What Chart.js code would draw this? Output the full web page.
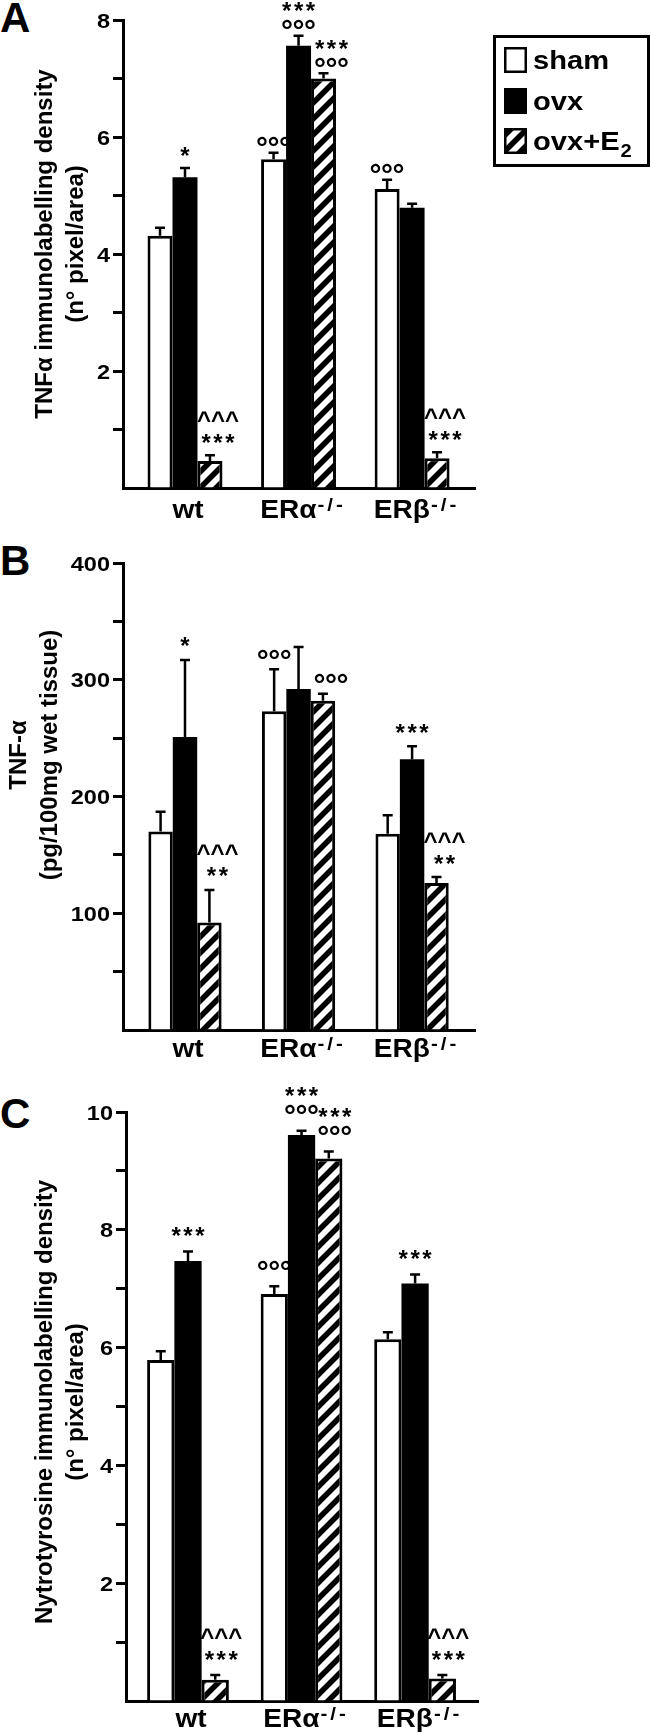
<!DOCTYPE html>
<html lang="en">
<head>
<meta charset="UTF-8">
<title>TNFα and nytrotyrosine</title>
<script src="https://cdn.jsdelivr.net/npm/chart.js"></script>
<style>
    html, body { margin: 0; padding: 0; background: #fff; }
    body { width: 650px; height: 1733px; position: relative; overflow: hidden; }
    canvas { position: absolute; left: 0; }
    .tag { position: absolute; left: 0; font: bold 42px "Liberation Sans", Arial, sans-serif; line-height: 42px; color: #000; }
</style>
</head>
<body>

<div class="tag" style="top:-3px">A</div>
<div class="tag" style="top:540px">B</div>
<div class="tag" style="top:1093px">C</div>

<canvas id="chartA" width="650" height="545" style="top:0px"></canvas>
<canvas id="chartB" width="650" height="540" style="top:545px"></canvas>
<canvas id="chartC" width="650" height="648" style="top:1085px"></canvas>

<script>
    var FONT = '"Liberation Sans", Arial, sans-serif';

    // groups on the x axis
    var groups = ['wt', 'ERα', 'ERβ'];
    var groupSup = ['', '-/-', '-/-'];

    // A - TNFα immunolabelling density (n° pixel/area)
    var shamA = [4.31, 5.62, 5.11];
    var ovxA = [5.31, 7.56, 4.79];
    var e2A = [0.46, 7.00, 0.51];
    var shamErrA = [0.14, 0.11, 0.16];
    var ovxErrA = [0.16, 0.17, 0.07];
    var e2ErrA = [0.10, 0.09, 0.10];
    var tickLabelsA = [2, 4, 6, 8];
    var shamMarksA = [[], ['°°°'], ['°°°']];
    var ovxMarksA = [['*'], ['°°°', '***'], []];
    var e2MarksA = [['***', '^^^'], ['°°°', '***'], ['***', '^^^']];

    // B - TNF-α (pg/100mg wet tissue)
    var shamB = [170, 273, 168];
    var ovxB = [251, 292, 232];
    var e2B = [92, 282, 126];
    var shamErrB = [17, 36, 16];
    var ovxErrB = [66, 36, 11];
    var e2ErrB = [28, 6, 5];
    var tickLabelsB = [100, 200, 300, 400];
    var shamMarksB = [[], ['°°°'], []];
    var ovxMarksB = [['*'], [], ['***']];
    var e2MarksB = [['**', '^^^'], ['°°°'], ['**', '^^^']];

    // C - Nytrotyrosine immunolabelling density (n° pixel/area)
    var shamC = [5.79, 6.91, 6.14];
    var ovxC = [7.47, 9.61, 7.09];
    var e2C = [0.36, 9.21, 0.38];
    var shamErrC = [0.15, 0.13, 0.12];
    var ovxErrC = [0.16, 0.07, 0.15];
    var e2ErrC = [0.08, 0.12, 0.06];
    var tickLabelsC = [2, 4, 6, 8, 10];
    var shamMarksC = [[], ['°°°'], []];
    var ovxMarksC = [['***'], ['°°°', '***'], ['***']];
    var e2MarksC = [['***', '^^^'], ['°°°', '***'], ['***', '^^^']];

    Chart.defaults.font.family = FONT;

    // diagonal hatch for ovx+E2 (45 deg, ~16px vertical period)
    function makeHatch() {
        var c = document.createElement('canvas');
        c.width = 16; c.height = 16;
        var g = c.getContext('2d');
        g.fillStyle = '#fff';
        g.fillRect(0, 0, 16, 16);
        g.strokeStyle = '#000';
        g.lineWidth = 5.6;
        g.beginPath();
        for (var n = -1; n <= 1; n++) {
            g.moveTo(-4, 16 * n + 16 + 4);
            g.lineTo(20, 16 * n + 16 - 20);
        }
        g.stroke();
        return c;
    }
    var hatchTile = makeHatch();

    function pts(arr) {
        return arr.map(function (v, i) { return { x: i + 1, y: v }; });
    }

    function stretchText(ctx, text, x, y, size, sx, align) {
        ctx.save();
        ctx.translate(x, y);
        ctx.scale(sx, 1);
        ctx.font = 'bold ' + size + 'px ' + FONT;
        ctx.textAlign = align;
        ctx.textBaseline = 'alphabetic';
        ctx.fillText(text, 0, 0);
        ctx.restore();
    }

    // glyph setup for significance marks: size, spacing, centre above baseline
    var markStyle = {
        '*': { size: 24, gap: 2.5, off: 13.5 },
        '°': { size: 30, gap: -0.5, off: 17.5 },
        '^': { size: 24, gap: 0, off: 12.5 }
    };

    function spacedText(ctx, text, cx, cy) {
        var st = markStyle[text[0]];
        ctx.font = 'bold ' + st.size + 'px ' + FONT;
        ctx.textAlign = 'left';
        ctx.textBaseline = 'alphabetic';
        var ws = [], w = 0, i;
        for (i = 0; i < text.length; i++) { ws.push(ctx.measureText(text[i]).width); w += ws[i]; }
        w += st.gap * (text.length - 1);
        var x = cx - w / 2;
        for (i = 0; i < text.length; i++) {
            ctx.fillText(text[i], x, cy + st.off);
            x += ws[i] + st.gap;
        }
    }

    function decor(cfg) {
        return {
            id: 'decor' + cfg.id,
            afterDraw: function (chart) {
                var ctx = chart.ctx, xs = chart.scales.x, ys = chart.scales.y;
                ctx.save();
                ctx.fillStyle = '#000';
                ctx.strokeStyle = '#000';

                // error bars + marks
                chart.data.datasets.forEach(function (ds, di) {
                    var meta = chart.getDatasetMeta(di);
                    meta.data.forEach(function (bar, i) {
                        var top = ys.getPixelForValue(ds.data[i].y + cfg.errors[di][i]);
                        ctx.lineWidth = 2.5;
                        ctx.beginPath();
                        ctx.moveTo(bar.x, bar.y);
                        ctx.lineTo(bar.x, top);
                        ctx.moveTo(bar.x - 5, top);
                        ctx.lineTo(bar.x + 5, top);
                        ctx.stroke();

                        var lines = cfg.marks[di][i];
                        var cy = top;
                        lines.forEach(function (t, k) {
                            if (k === 0) {
                                cy -= (t[0] === '°') ? cfg.gapDeg : cfg.gapStar;
                            } else {
                                cy -= (t[0] === '^') ? 22 : 18;
                            }
                            spacedText(ctx, t, bar.x + cfg.markDx[di], cy);
                        });
                    });
                });

                // y tick labels
                cfg.tickLabels.forEach(function (v) {
                    var py = ys.getPixelForValue(v);
                    stretchText(ctx, String(v), ys.right - 13, py + 7.5, 21, 1.12, 'right');
                });

                // y title
                ctx.font = 'bold 24px ' + FONT;
                ctx.textAlign = 'center';
                ctx.textBaseline = 'middle';
                cfg.title.forEach(function (line, k) {
                    ctx.save();
                    ctx.translate(cfg.titleX[k], cfg.titleY);
                    ctx.rotate(-Math.PI / 2);
                    ctx.fillText(line, 0, 0);
                    ctx.restore();
                });

                // category labels with superscript
                var SX = 1.08;
                groups.forEach(function (g, i) {
                    var cx = xs.getPixelForValue(i + 1) + 3;
                    var base = ys.bottom + cfg.labY;
                    ctx.font = 'bold 26px ' + FONT;
                    var w1 = ctx.measureText(g).width * SX;
                    var sup = groupSup[i];
                    ctx.font = 'bold 19px ' + FONT;
                    var sw = [], w2 = 0, j;
                    for (j = 0; j < sup.length; j++) { sw.push(ctx.measureText(sup[j]).width * SX); w2 += sw[j] + (j ? 3 : 1); }
                    var x = cx - (w1 + w2) / 2;
                    stretchText(ctx, g, x, base, 26, SX, 'left');
                    x += w1 + 1;
                    for (j = 0; j < sup.length; j++) {
                        stretchText(ctx, sup[j], x, base - 7, 19, SX, 'left');
                        x += sw[j] + 3;
                    }
                });

                // legend box (panel A only)
                if (cfg.legend) {
                    ctx.lineWidth = 3;
                    ctx.strokeRect(494.5, 36.5, 154, 129);
                    var fills = ['#fff', '#000', ctx.createPattern(hatchTile, 'repeat')];
                    var rows = [47, 88, 128];
                    rows.forEach(function (ry, k) {
                        ctx.fillStyle = fills[k];
                        ctx.fillRect(504, ry, 23, 26);
                        ctx.lineWidth = 2.5;
                        ctx.strokeRect(505.25, ry + 1.25, 20.5, 23.5);
                    });
                    ctx.fillStyle = '#000';
                    stretchText(ctx, 'sham', 533, 69, 26, 1.12, 'left');
                    stretchText(ctx, 'ovx', 533, 110, 26, 1.12, 'left');
                    stretchText(ctx, 'ovx+E', 533, 150, 26, 1.12, 'left');
                    ctx.font = 'bold 26px ' + FONT;
                    var wE = ctx.measureText('ovx+E').width * 1.12;
                    stretchText(ctx, '2', 533 + wE + 1, 157, 18, 1.12, 'left');
                }
                ctx.restore();
            }
        };
    }

    function makePanel(canvasId, cfg) {
        var el = document.getElementById(canvasId);
        var pat = el.getContext('2d').createPattern(hatchTile, 'repeat');
        return new Chart(el, {
            type: 'bar',
            data: {
                datasets: [
                    { label: 'sham', data: pts(cfg.sham), backgroundColor: '#fff', borderColor: '#000', borderWidth: 3 },
                    { label: 'ovx', data: pts(cfg.ovx), backgroundColor: '#000', borderColor: '#000', borderWidth: 0 },
                    { label: 'ovx+E2', data: pts(cfg.e2), backgroundColor: pat, borderColor: '#000', borderWidth: 3 }
                ]
            },
            options: {
                responsive: false,
                animation: false,
                devicePixelRatio: 1,
                layout: { padding: { top: cfg.top, right: 650 - cfg.right, left: 0, bottom: 0 } },
                datasets: { bar: { categoryPercentage: cfg.pct, barPercentage: 1 } },
                scales: {
                    x: {
                        type: 'linear', min: 0.454, max: 3.554, offset: false,
                        ticks: { display: false, stepSize: 1, includeBounds: false },
                        grid: { display: false, offset: false },
                        border: { display: true, width: 3, color: '#000' },
                        afterFit: function (s) { s.height = cfg.xh; }
                    },
                    y: {
                        min: 0, max: cfg.max,
                        ticks: { display: false, stepSize: cfg.step },
                        grid: {
                            display: true, drawOnChartArea: false, drawTicks: true,
                            tickLength: 10, tickWidth: 3,
                            tickColor: function (c) { return c.tick && c.tick.value === 0 ? 'rgba(0,0,0,0)' : '#000'; }
                        },
                        border: { display: true, width: 3, color: '#000' },
                        afterFit: function (s) { s.width = cfg.left; }
                    }
                },
                plugins: { legend: { display: false }, tooltip: { enabled: false } }
            },
            plugins: [decor(cfg)]
        });
    }

    makePanel('chartA', {
        id: 'A', sham: shamA, ovx: ovxA, e2: e2A,
        errors: [shamErrA, ovxErrA, e2ErrA],
        marks: [shamMarksA, ovxMarksA, e2MarksA],
        tickLabels: tickLabelsA, max: 8, step: 1,
        top: 20, right: 475, left: 123, xh: 57, pct: 0.66, labY: 30,
        title: ['TNFα immunolabelling density', '(n° pixel/area)'],
        titleX: [45, 76], titleY: 244,
        gapStar: 18, gapDeg: 12, markDx: [0, 0, 8], legend: true
    });

    makePanel('chartB', {
        id: 'B', sham: shamB, ovx: ovxB, e2: e2B,
        errors: [shamErrB, ovxErrB, e2ErrB],
        marks: [shamMarksB, ovxMarksB, e2MarksB],
        tickLabels: tickLabelsB, max: 400, step: 50,
        top: 18, right: 475, left: 123, xh: 55, pct: 0.645, labY: 27,
        title: ['TNF-α', '(pg/100mg wet tissue)'],
        titleX: [19, 50], titleY: 210,
        gapStar: 19, gapDeg: 16, markDx: [0, 0, 8], legend: false
    });

    makePanel('chartC', {
        id: 'C', sham: shamC, ovx: ovxC, e2: e2C,
        errors: [shamErrC, ovxErrC, e2ErrC],
        marks: [shamMarksC, ovxMarksC, e2MarksC],
        tickLabels: tickLabelsC, max: 10, step: 1,
        top: 27, right: 478, left: 126, xh: 32, pct: 0.72, labY: 26,
        title: ['Nytrotyrosine immunolabelling density', '(n° pixel/area)'],
        titleX: [45, 76], titleY: 317,
        gapStar: 21, gapDeg: 22, markDx: [0, 0, 6], legend: false
    });
</script>

</body>
</html>
